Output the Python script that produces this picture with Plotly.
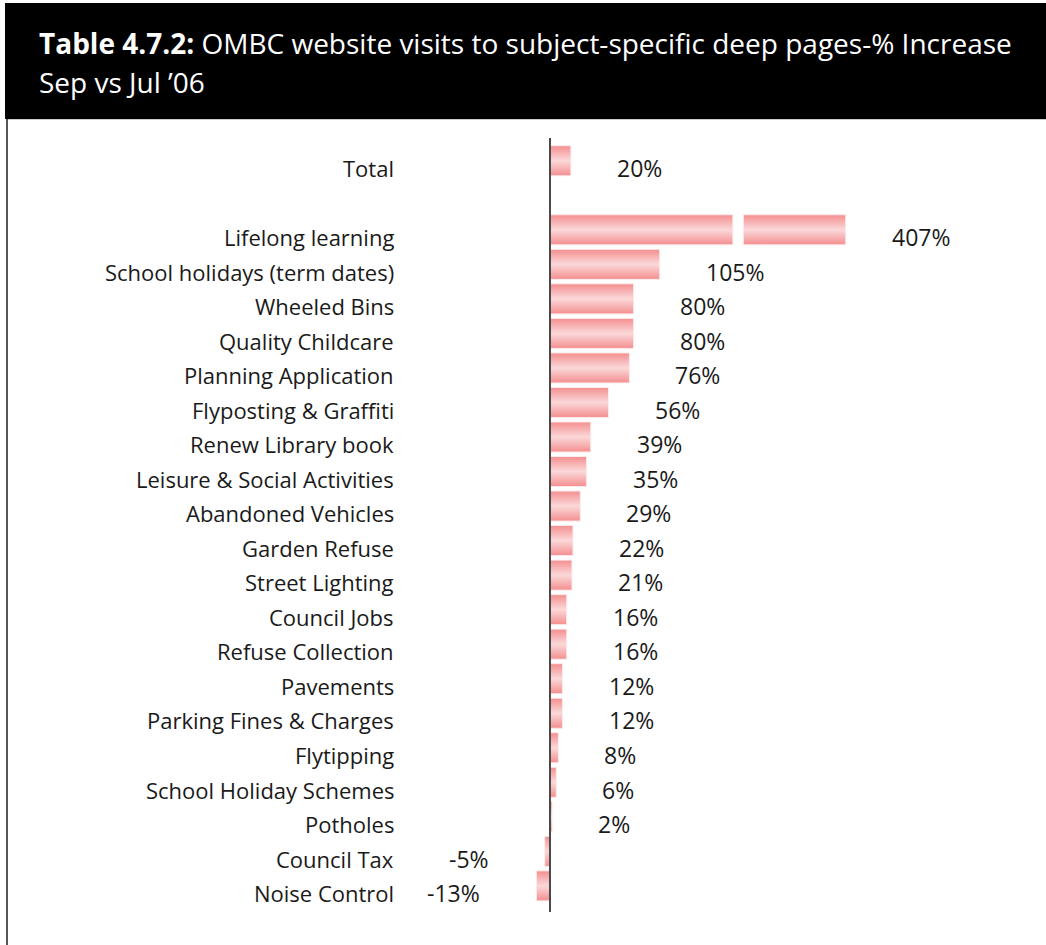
import plotly.graph_objects as go

# ---- data -------------------------------------------------------------
categories = [
    "Total",
    "Lifelong learning",
    "School holidays (term dates)",
    "Wheeled Bins",
    "Quality Childcare",
    "Planning Application",
    "Flyposting & Graffiti",
    "Renew Library book",
    "Leisure & Social Activities",
    "Abandoned Vehicles",
    "Garden Refuse",
    "Street Lighting",
    "Council Jobs",
    "Refuse Collection",
    "Pavements",
    "Parking Fines & Charges",
    "Flytipping",
    "School Holiday Schemes",
    "Potholes",
    "Council Tax",
    "Noise Control",
]
pct_increase = [20, 407, 105, 80, 80, 76, 56, 39, 35, 29, 22, 21, 16, 16,
                12, 12, 8, 6, 2, -5, -13]

title_bold = "Table 4.7.2:"
title_rest = "OMBC website visits to subject-specific deep pages-% Increase"
title_line2 = "Sep vs Jul \u201906"

# ---- geometry ---------------------------------------------------------
W, H = 1046, 945
PX_PER_PCT = 1.045          # horizontal scale
ZERO_PX = 550               # where 0 % sits
ROW0_PX = 168               # centre of the first row
ROW_PITCH = 34.53           # pixels per row
BAR_WIDTH = 0.87            # bar thickness in row units
BAR_SHIFT = -0.21           # bars sit slightly above their label rows

# axis break for very long bars
BREAK_AT = 175              # first segment ends here
BREAK_GAP = 10              # white gap drawn at the break
BREAK_SKIP = 124            # span of the axis omitted by the break

# Total row, blank row, then the pages
rows = [0] + list(range(2, 2 + len(categories) - 1))

x_range = [(0 - ZERO_PX) / PX_PER_PCT, (W - ZERO_PX) / PX_PER_PCT]
y_range = [(H - ROW0_PX) / ROW_PITCH, (0 - ROW0_PX) / ROW_PITCH]  # reversed


def px_x(p):
    return p / W


def px_y(p):
    return 1 - p / H


EDGE = "#F48E8F"
MID = "#FBD8D9"
TEXT = "#1a1a1a"

fig = go.Figure()

for r, v in zip(rows, pct_increase):
    y0 = r + BAR_SHIFT - BAR_WIDTH / 2
    y1 = r + BAR_SHIFT + BAR_WIDTH / 2
    if v > BREAK_AT + BREAK_SKIP:
        end = v - BREAK_SKIP
        xs = [0, BREAK_AT, BREAK_AT, 0, 0, None,
              BREAK_AT + BREAK_GAP, end, end, BREAK_AT + BREAK_GAP, BREAK_AT + BREAK_GAP]
        ys = [y0, y0, y1, y1, y0, None, y0, y0, y1, y1, y0]
    else:
        end = v
        xs = [0, v, v, 0, 0]
        ys = [y0, y0, y1, y1, y0]
    fig.add_trace(go.Scatter(
        x=xs, y=ys, mode="lines", fill="toself",
        line=dict(color="#FDEAEA", width=1),
        fillgradient=dict(type="vertical",
                          colorscale=[[0, EDGE], [0.5, MID], [1, EDGE]],
                          start=y0, stop=y1),
        hoverinfo="skip", showlegend=False,
    ))
    # value label
    if v >= 0:
        fig.add_annotation(x=end, y=r, xref="x", yref="y", text=f"{v}%",
                           showarrow=False, xanchor="left", yanchor="middle",
                           xshift=44, font=dict(size=23, color=TEXT))
    else:
        fig.add_annotation(x=end, y=r, xref="x", yref="y", text=f"{v}%",
                           showarrow=False, xanchor="right", yanchor="middle",
                           xshift=-54, font=dict(size=23, color=TEXT))

# category labels
for r, c in zip(rows, categories):
    fig.add_annotation(x=px_x(396), y=r, xref="paper", yref="y", text=c,
                       showarrow=False, xanchor="right", yanchor="middle",
                       font=dict(size=22, color=TEXT))

# header band, frame and zero line
shapes = [
    dict(type="rect", xref="paper", yref="paper",
         x0=px_x(5), x1=px_x(W + 5), y0=px_y(3), y1=px_y(119),
         fillcolor="black", line=dict(width=0), layer="below"),
    dict(type="line", xref="paper", yref="paper",
         x0=px_x(7), x1=px_x(W), y0=px_y(119.5), y1=px_y(119.5),
         line=dict(color="#cccccc", width=1)),
    dict(type="line", xref="paper", yref="paper",
         x0=px_x(7), x1=px_x(7), y0=px_y(119), y1=px_y(H + 5),
         line=dict(color="#555555", width=2)),
    dict(type="line", xref="x", yref="paper",
         x0=0, x1=0, y0=px_y(138), y1=px_y(912),
         line=dict(color="#4a4a4a", width=2)),
]

# two-line heading on the black band
fig.add_annotation(
    x=px_x(37), y=px_y(43), xref="paper", yref="paper",
    text=f"<b>{title_bold}</b> {title_rest}",
    showarrow=False, xanchor="left", yanchor="middle", align="left",
    font=dict(size=28, color="white"),
)
fig.add_annotation(
    x=px_x(37), y=px_y(82), xref="paper", yref="paper",
    text=title_line2,
    showarrow=False, xanchor="left", yanchor="middle", align="left",
    font=dict(size=28, color="white"),
)

fig.update_layout(
    width=W, height=H,
    margin=dict(l=0, r=0, t=0, b=0),
    paper_bgcolor="white", plot_bgcolor="white",
    font=dict(family="Open Sans, Noto Sans, sans-serif"),
    xaxis=dict(range=x_range, visible=False, fixedrange=True),
    yaxis=dict(range=y_range, visible=False, fixedrange=True),
    shapes=shapes,
)

fig.write_html("out.html")
